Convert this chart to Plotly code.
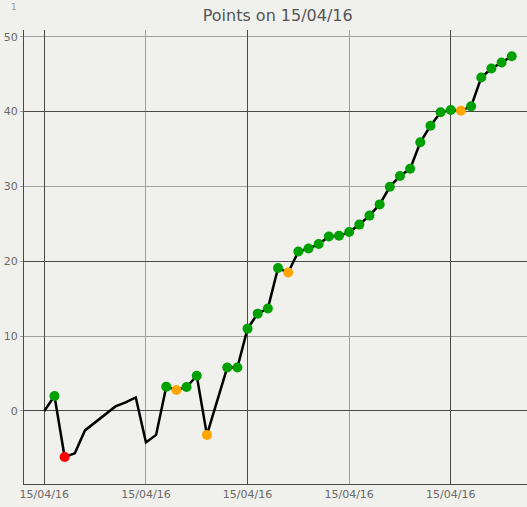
import plotly.graph_objects as go

# ---- data ----
x_index = [0, 1, 2, 3, 4, 5, 6, 7, 8, 9, 10, 11, 12, 13, 14, 15, 16,
           18, 19, 20, 21, 22, 23, 24, 25, 26, 27, 28, 29, 30, 31, 32,
           33, 34, 35, 36, 37, 38, 39, 40, 41, 42, 43, 44, 45, 46]
points = [0, 2.0, -6.15, -5.66, -2.6, -1.5, -0.45, 0.6, 1.15, 1.8, -4.2, -3.2,
          3.25, 2.8, 3.2, 4.7, -3.2,
          5.8, 5.8, 11.0, 13.0, 13.7, 19.1, 18.5, 21.3, 21.7, 22.3, 23.3, 23.4,
          23.9, 24.9, 26.1, 27.6, 29.95, 31.4, 32.35, 35.9, 38.1, 39.9, 40.2,
          40.1, 40.7, 44.55, 45.75, 46.55, 47.4]
status = [None, "g", "r", None, None, None, None, None, None, None, None, None,
          "g", "o", "g", "g", "o",
          "g", "g", "g", "g", "g", "g", "o", "g", "g", "g", "g", "g",
          "g", "g", "g", "g", "g", "g", "g", "g", "g", "g", "g",
          "o", "g", "g", "g", "g", "g"]
x_tick_vals = [0, 10, 20, 30, 40]
x_tick_text = ["15/04/16"] * 5
y_tick_vals = [0, 10, 20, 30, 40, 50]
major_grid = [0, 20, 40]
title_text = "Points on 15/04/16"

# ---- styles ----
status_color = {"g": "#00a000", "o": "#ffa500", "r": "#ff0000"}
BG = "#f0f0ec"
DARK = "#4a4a4a"
LIGHT = "#a0a0a0"
FONT = "DejaVu Sans"
XR = [-2.0, 47.5]
YR = [-9.76, 50.9]

mx = [x for x, s in zip(x_index, status) if s]
my = [y for y, s in zip(points, status) if s]
mc = [status_color[s] for s in status if s]

fig = go.Figure()
# invisible carrier trace for the overlaid (major-grid) axes
fig.add_trace(go.Scatter(x=x_index, y=points, mode="lines", xaxis="x2", yaxis="y2",
                         line=dict(width=0), opacity=0, hoverinfo="skip",
                         showlegend=False))
fig.add_trace(go.Scatter(x=x_index, y=points, mode="lines",
                         line=dict(color="black", width=2.5),
                         hoverinfo="skip", showlegend=False))
fig.add_trace(go.Scatter(x=mx, y=my, mode="markers",
                         marker=dict(color=mc, size=10, line=dict(width=0)),
                         showlegend=False))

fig.update_layout(
    width=527, height=507,
    margin=dict(l=24, r=0, t=30, b=23),
    paper_bgcolor=BG, plot_bgcolor=BG,
    font=dict(family=FONT, size=11, color="#6a6a6a"),
    title=dict(text=title_text, x=0.527, xanchor="center", y=0.97, yanchor="middle",
               font=dict(family=FONT, size=16, color="#555555")),
    annotations=[dict(text="1", xref="paper", yref="paper", x=-0.02, y=1.05,
                      showarrow=False, font=dict(size=9, color="#999999"),
                      xanchor="center", yanchor="middle")],
    xaxis=dict(range=XR, tickmode="array", tickvals=x_tick_vals,
               ticktext=x_tick_text, showgrid=True, gridcolor=LIGHT, gridwidth=1,
               zeroline=False, showline=True, linecolor=DARK, linewidth=1,
               ticks="", fixedrange=True),
    yaxis=dict(range=YR, tickmode="array", tickvals=y_tick_vals,
               showgrid=True, gridcolor=LIGHT, gridwidth=1, zeroline=False,
               showline=True, linecolor=DARK, linewidth=1,
               ticks="outside", ticklen=3, tickcolor=LIGHT, fixedrange=True),
    xaxis2=dict(overlaying="x", range=XR, tickmode="array", tickvals=major_grid,
                showticklabels=False, ticks="", showgrid=True, gridcolor=DARK,
                gridwidth=1, zeroline=False, showline=False, fixedrange=True),
    yaxis2=dict(overlaying="y", range=YR, tickmode="array", tickvals=major_grid,
                showticklabels=False, ticks="", showgrid=True, gridcolor=DARK,
                gridwidth=1, zeroline=False, showline=False, fixedrange=True),
)

fig.write_html("out.html", config={"displayModeBar": False},
               post_script="document.body.style.margin='0';document.body.style.background='%s';" % BG)
